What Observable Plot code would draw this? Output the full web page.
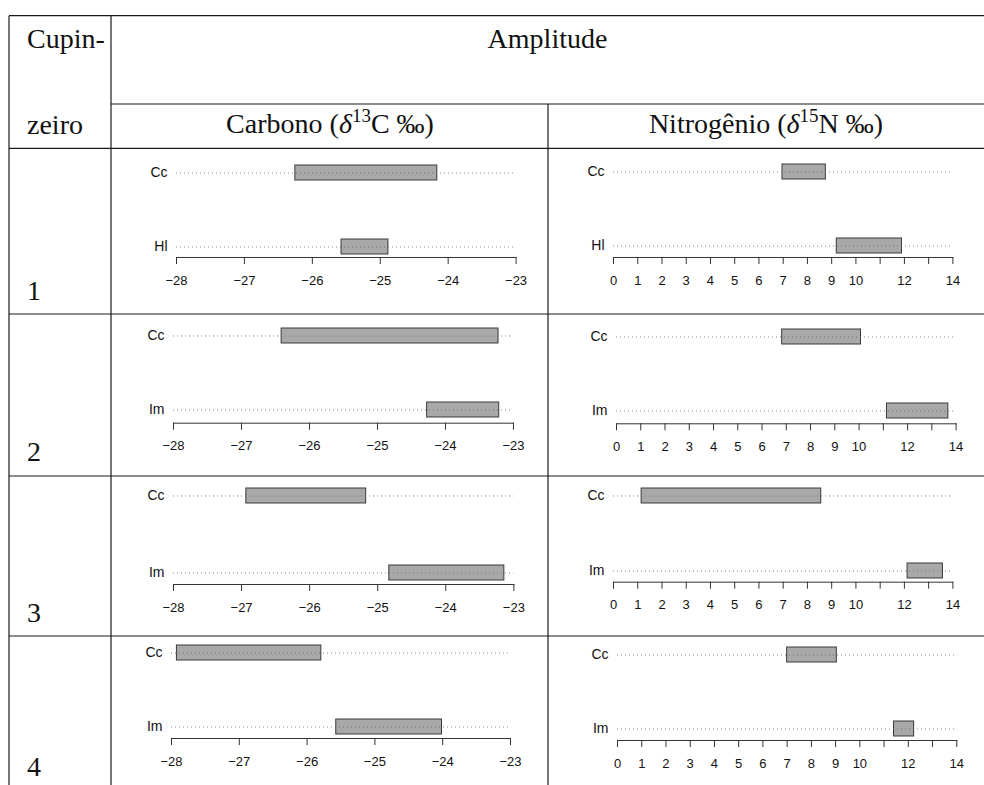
<!DOCTYPE html>
<html><head><meta charset="utf-8">
<script src="https://cdn.jsdelivr.net/npm/d3@7"></script>
<script src="https://cdn.jsdelivr.net/npm/@observablehq/plot@0.6"></script>
<style>
html,body{margin:0;padding:0;background:#fff;}
#root{position:relative;width:984px;height:785px;overflow:hidden;}
#root svg.panel{position:absolute;}
#root svg.panel g[aria-label="x-axis tick label"]{font-size:13px !important;}
#root svg.panel g[aria-label="x-axis tick label"] text{font-size:13px !important;}
#root svg.panel g[aria-label="y-axis tick label"]{font-size:14px !important;}
#root svg.panel g[aria-label="y-axis tick label"] text{font-size:14px !important;}
</style></head><body><div id="root"></div>
<script>
// ---- data ----
const rowIds = ["1", "2", "3", "4"];
const refGroup = "Cc";
const otherGroup = ["Hl", "Im", "Im", "Im"];
const carbonCcMin = [-26.25, -26.41, -26.93, -27.92];
const carbonCcMax = [-24.16, -23.22, -25.17, -25.79];
const carbonOtherMin = [-25.57, -24.27, -24.83, -25.57];
const carbonOtherMax = [-24.88, -23.21, -23.14, -24.01];
const nitroCcMin = [6.97, 6.83, 1.16, 7.00];
const nitroCcMax = [8.76, 10.08, 8.57, 9.05];
const nitroOtherMin = [9.21, 11.15, 12.13, 11.41];
const nitroOtherMax = [11.90, 13.68, 13.59, 12.24];
const carbonDomain = [-28, -23];
const carbonTicks = [-28, -27, -26, -25, -24, -23];
const nitroDomain = [0, 14];
const nitroTicks = [0, 1, 2, 3, 4, 5, 6, 7, 8, 9, 10, 11, 12, 13, 14];
const nitroTickLabels = [0, 1, 2, 3, 4, 5, 6, 7, 8, 9, 10, 12, 14];

// ---- layout (pixels) ----
const rowTop = [148.3, 314, 476, 636];
const layout = [
  {C: {x0: 175.7, x1: 515.3, cc: 172.3, ot: 246.3, ax: 257.3}, N: {x0: 613.3, x1: 952.7, cc: 171.5, ot: 245.5, ax: 257.3}},
  {C: {x0: 172.7, x1: 512.7, cc: 335.5, ot: 410.3, ax: 422.7}, N: {x0: 615.7, x1: 955.3, cc: 336.5, ot: 411, ax: 423.3}},
  {C: {x0: 173.3, x1: 513.7, cc: 495, ot: 572, ax: 584}, N: {x0: 613.3, x1: 952.7, cc: 495, ot: 570.5, ax: 581.7}},
  {C: {x0: 171.3, x1: 510.3, cc: 652.5, ot: 727, ax: 738}, N: {x0: 616.7, x1: 956, cc: 654, ot: 728.3, ax: 740}}
];

const root = document.getElementById("root");

// ---- table frame and texts ----
const W = 984, H = 785;
const svg = d3.select(root).append("svg").attr("width", W).attr("height", H)
  .style("position", "absolute").style("left", 0).style("top", 0);
const lineColor = "#1a1a1a";
const hLines = [[9, W, 15.7], [111, W, 104], [9, W, 148.3], [9, W, 314], [9, W, 476], [9, W, 636]];
const vLines = [[9, 15.7, H], [111, 15.7, H], [548, 104, H]];
hLines.forEach(([a, b, y]) => svg.append("line").attr("x1", a).attr("x2", b).attr("y1", y).attr("y2", y)
  .attr("stroke", lineColor).attr("stroke-width", 1.2));
vLines.forEach(([x, a, b]) => svg.append("line").attr("x1", x).attr("x2", x).attr("y1", a).attr("y2", b)
  .attr("stroke", lineColor).attr("stroke-width", 1.2));

const serif = "'Liberation Serif', 'Times New Roman', serif";
function txt(x, y, anchor) {
  return svg.append("text").attr("x", x).attr("y", y).attr("text-anchor", anchor)
    .attr("font-family", serif).attr("font-size", 28).attr("fill", "#111");
}
txt(27, 47.5, "start").text("Cupin-");
txt(27, 134, "start").text("zeiro");
txt(547.5, 47.5, "middle").text("Amplitude");
function isoHeader(x, word, num, el) {
  const t = txt(x, 133, "middle");
  t.append("tspan").text(word + " (");
  t.append("tspan").attr("font-style", "italic").text("δ");
  t.append("tspan").attr("font-size", 19).attr("dy", -11).text(num);
  t.append("tspan").attr("dy", 11).text(el + " ‰)");
}
isoHeader(330, "Carbono", "13", "C");
isoHeader(766, "Nitrogênio", "15", "N");
const numBaselines = [300, 461, 622, 776];
rowIds.forEach((r, i) => txt(27, numBaselines[i], "start").text(r));

// ---- panels ----
function panel(lay, top, cats, vals, domain, ticks, fmt) {
  const mL = 60, mR = 30, mB = 40, bw = 15;
  const svgTop = top + 2;
  const width = lay.x1 - lay.x0 + mL + mR;
  const height = lay.ax - svgTop + mB;
  const data = cats.map((g, i) => ({g, a: vals[i][0], b: vals[i][1]}));
  const s = lay.ot - lay.cc;
  const p = Plot.plot({
    width, height, marginLeft: mL, marginRight: mR, marginTop: 0, marginBottom: mB,
    x: {domain, label: null},
    y: {type: "band", domain: cats, range: [lay.cc - svgTop - bw / 2, lay.ot - svgTop + bw / 2],
        paddingInner: 1 - bw / s, paddingOuter: 0, label: null},
    style: {fontFamily: "'Liberation Sans', Arial, sans-serif", fontSize: "13px", background: "transparent", color: "#111", overflow: "visible"},
    marks: [
      Plot.barX(data, {x1: "a", x2: "b", y: "g", fill: "#a9a9a9", stroke: "#3a3a3a", strokeWidth: 1}),
      Plot.ruleY(cats, {y: d => d, stroke: "#666", strokeWidth: 0.8, strokeDasharray: "1,3"}),
      Plot.frame({anchor: "bottom", stroke: "#333", strokeWidth: 1}),
      Plot.axisX({ticks, tickSize: 7, tickPadding: 11, tickFormat: fmt, fontSize: 13, stroke: "#333", fill: "#111", label: null}),
      Plot.axisY({tickSize: 0, tickPadding: 9, fontSize: 14, fill: "#111", label: null})
    ]
  });
  p.classList.add("panel");
  p.style.left = (lay.x0 - mL) + "px";
  p.style.top = svgTop + "px";
  root.appendChild(p);
}

const carbonFmt = d => d3.format("")(d).replace("-", "−");
const nitroFmt = d => nitroTickLabels.includes(d) ? String(d) : "";
rowIds.forEach((r, i) => {
  const cats = [refGroup, otherGroup[i]];
  panel(layout[i].C, rowTop[i], cats,
    [[carbonCcMin[i], carbonCcMax[i]], [carbonOtherMin[i], carbonOtherMax[i]]], carbonDomain, carbonTicks, carbonFmt);
  panel(layout[i].N, rowTop[i], cats,
    [[nitroCcMin[i], nitroCcMax[i]], [nitroOtherMin[i], nitroOtherMax[i]]], nitroDomain, nitroTicks, nitroFmt);
});
</script></body></html>
